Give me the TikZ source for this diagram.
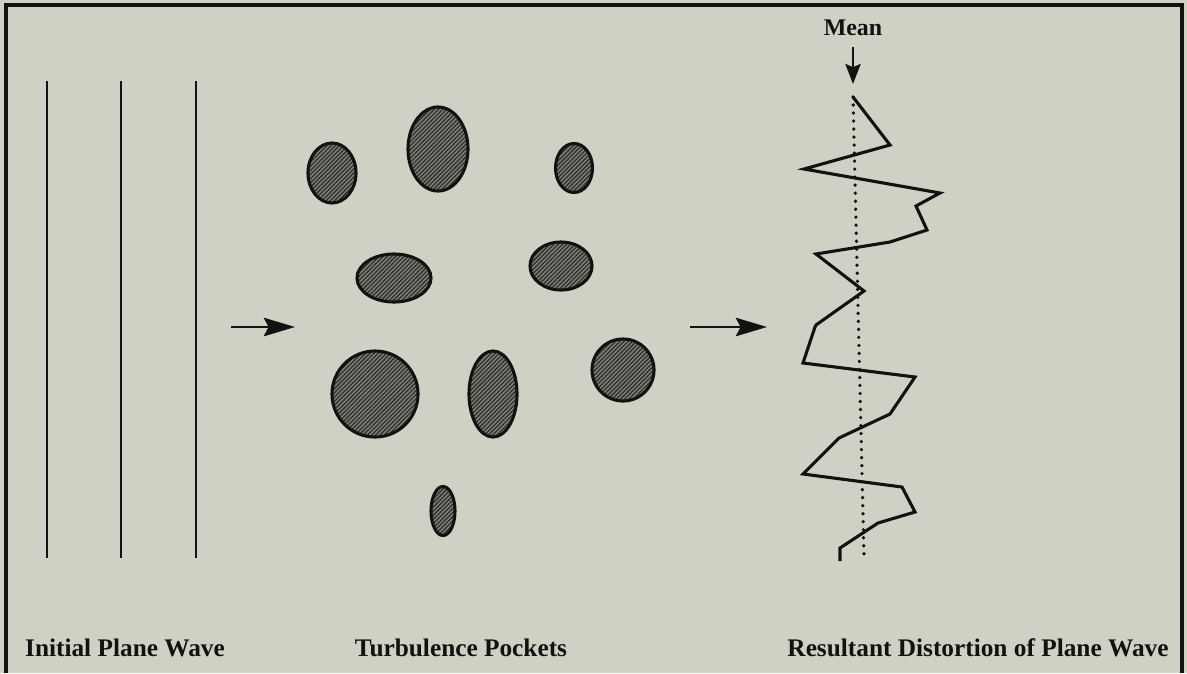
\documentclass[tikz,border=0pt]{standalone}
\usepackage{fontspec}
\setmainfont{Liberation Serif}
\usetikzlibrary{arrows.meta,positioning,shapes.geometric,patterns.meta}
\definecolor{paperGray}{RGB}{208, 208, 197}
\definecolor{inkBlack}{RGB}{18, 18, 16}
\definecolor{hatchBase}{RGB}{128, 128, 120}
\definecolor{hatchInk}{RGB}{45, 45, 42}

\tikzset{
    frame/.style={draw=inkBlack, line width=2.4pt},
    wavefront/.style={draw=inkBlack, line width=1.7pt},
    pocket/.style={ellipse, draw=inkBlack, line width=2.2pt, inner sep=0pt,
        preaction={fill=hatchBase},
        pattern={Lines[angle=45, distance=2.1pt, line width=0.9pt]}, pattern color=hatchInk},
    flow/.style={draw=inkBlack, line width=1.9pt, -{Stealth[length=0.78cm, width=0.46cm, inset=0.12cm]}},
    caption/.style={anchor=base, inner sep=0pt, font=\fontsize{18pt}{21pt}\selectfont\bfseries, text=inkBlack}
}

\begin{document}
\begin{tikzpicture}[x=0.025cm, y=-0.025cm]
    \fill[paperGray] (0,0) rectangle (1187,673);
    \useasboundingbox (0,0) rectangle (1187,673);
    \draw[frame] (6,673) -- (6,5) -- (1182,5) -- (1182,673);

    % initial plane wave
    \foreach \x in {47,121,196}
        \draw[wavefront] (\x,81) -- (\x,558);

    % turbulence pockets
    \foreach \x/\y/\w/\h [count=\i] in {332/173/1.2/1.5, 438/149/1.5/2.1, 574/168/0.925/1.225,
            394/278/1.85/1.2, 561/266/1.55/1.2, 375/394/2.15/2.15,
            493/394/1.2/2.15, 623/370/1.55/1.55, 443/511/0.6/1.225}
        \node[pocket, minimum width=\w cm, minimum height=\h cm] (pocket\i) at (\x,\y) {};

    % arrows between the stages
    \coordinate (flowA) at (231,327);
    \coordinate (flowB) at (295,327);
    \coordinate (flowC) at (690,327);
    \coordinate (flowD) at (767,327);
    \draw[flow] (flowA) -- (flowB);
    \draw[flow] (flowC) -- (flowD);

    % distorted wave and its mean
    \draw[inkBlack, line width=2.2pt, line join=miter]
        (853,97) -- (890,145) -- (804,169) -- (940,193) -- (916,206) -- (927,230)
        -- (890,242) -- (816,254) -- (864,291) -- (816,325) -- (815,327) -- (803,363)
        -- (915,377) -- (890,414) -- (839,438) -- (803,474) -- (902,487) -- (915,512)
        -- (878,523) -- (840,548) -- (840,561);
    \draw[inkBlack, line width=2.6pt, line cap=round, dash pattern=on 0pt off 5.7pt]
        (853,97) -- (864,557);

    \node[caption, font=\fontsize{17pt}{20pt}\selectfont\bfseries] (lblMean) at (853,35) {Mean};
    \coordinate (meanTip) at (853,84);
    \draw[draw=inkBlack, line width=2pt, -{Stealth[length=0.5cm, width=0.38cm, inset=0.08cm]}]
        (lblMean.south |- 0,47) -- (meanTip);

    % stage captions
    \node[caption] (lblInitial) at (125,656) {Initial Plane Wave};
    \node[caption] (lblPockets) at (461,656) {Turbulence Pockets};
    \node[caption] (lblResult) at (978,656) {Resultant Distortion of Plane Wave};
\end{tikzpicture}
\end{document}
